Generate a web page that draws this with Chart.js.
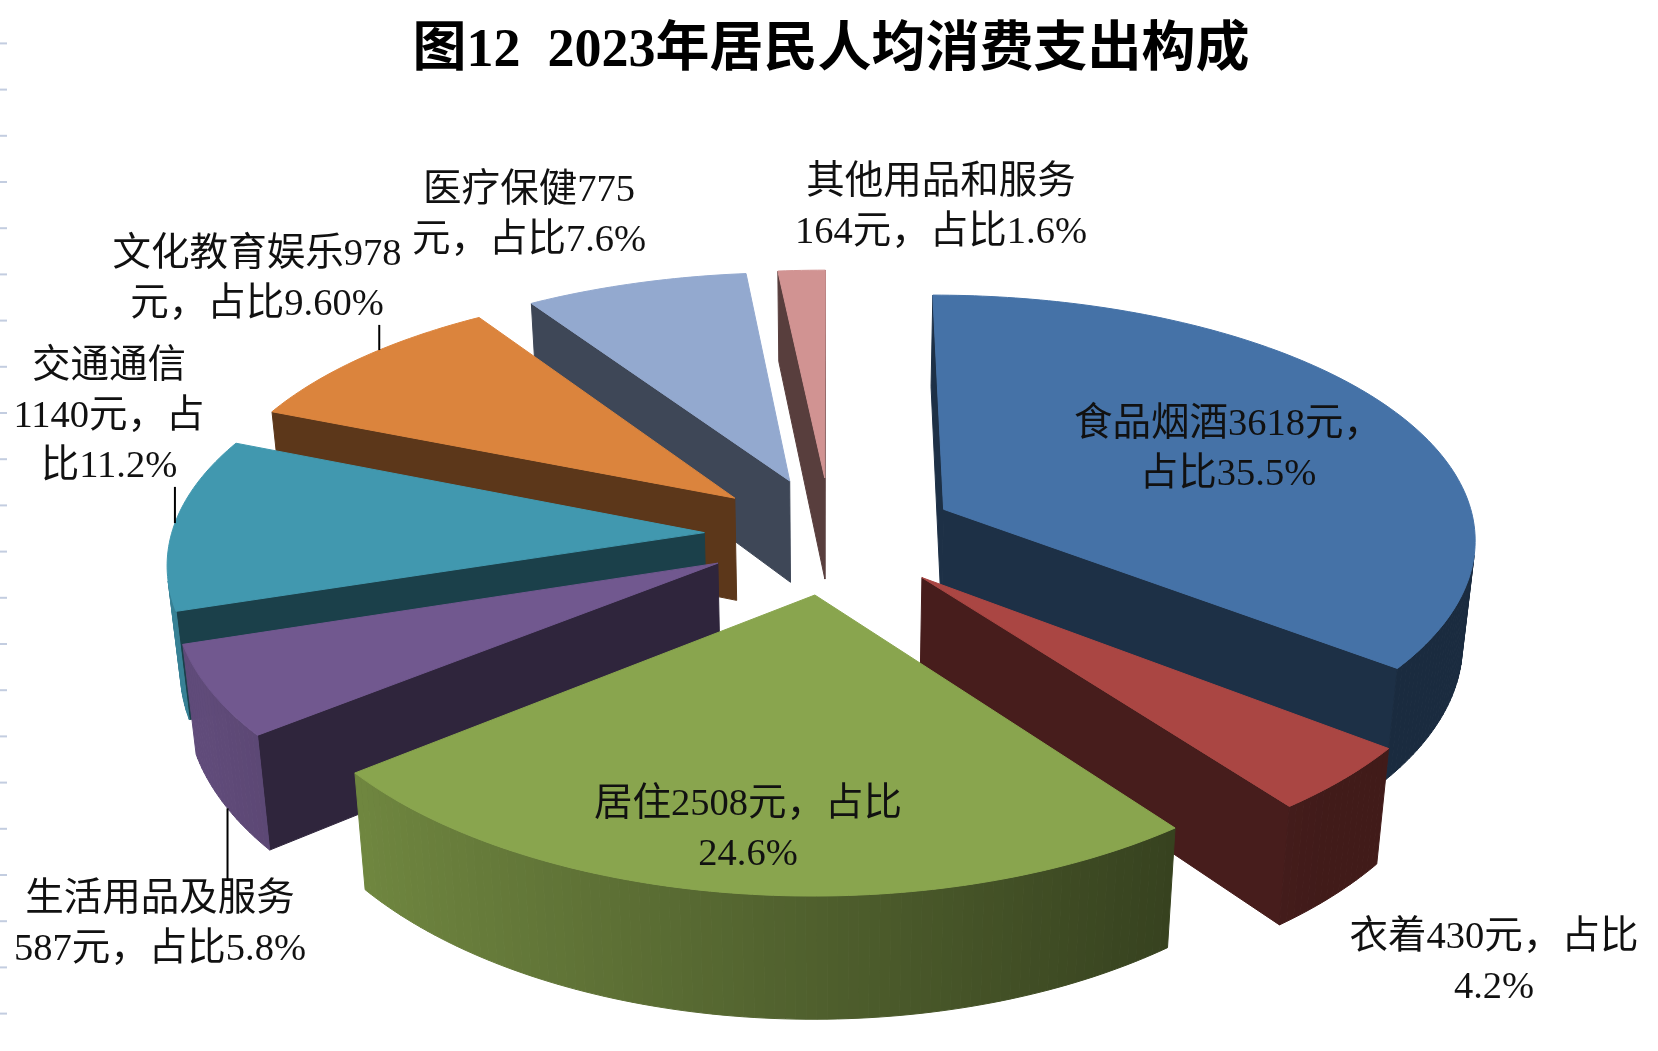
<!DOCTYPE html>
<html>
<head>
<meta charset="utf-8">
<style>
  html, body { margin: 0; padding: 0; background: #ffffff; overflow: hidden; }
  #c { display: block; }
</style>
<script src="https://cdn.jsdelivr.net/npm/chart.js@4.4.0/dist/chart.umd.min.js"></script>
</head>
<body>
<canvas id="c" width="1658" height="1051" style="width:1658px;height:1051px"></canvas>
<script>
// ---------------- data ----------------
const titleText = '图12  2023年居民人均消费支出构成';
const categories = ['食品烟酒', '衣着', '居住', '生活用品及服务', '交通通信', '文化教育娱乐', '医疗保健', '其他用品和服务'];
const values = [3618, 430, 2508, 587, 1140, 978, 775, 164];
const shares = ['35.5%', '4.2%', '24.6%', '5.8%', '11.2%', '9.60%', '7.6%', '1.6%'];

// ---------------- style ----------------
const colors = ['#4572A7', '#AA4643', '#89A54E', '#71588F', '#4198AF', '#DB843D', '#93A9CF', '#D19392'];
const labelBreaks = [[10], [9], [10], [7], [4, 11], [9], [7], [7]];           // where each label wraps
const labelOffsets = [[397, -110], [663, 403], [-83, 270], [-671, 365], [-722, -168], [-574, -280], [-302, -344], [110, -352]];
const labelLeaders = [null, null, null, 'bottom', 'top', 'top', null, null];
const leaderFrac = [0.5, 0.5, 0.5, 0.45, 0.5, 0.58, 0.5, 0.5];            // where along the slice rim the leader touches
const labelFont = "38.5px 'Liberation Serif', 'Noto Sans CJK SC', serif";
const titleFont = { size: 54, weight: 'bold', family: "'Liberation Serif', 'Noto Sans CJK SC', serif" };

function shade(hex, f) {
  const n = parseInt(hex.slice(1), 16);
  const r = Math.round(((n >> 16) & 255) * f), g = Math.round(((n >> 8) & 255) * f), b = Math.round((n & 255) * f);
  return `rgb(${r},${g},${b})`;
}

function geometry(chart, o) {
  const arcs = chart.getDatasetMeta(0).data;
  const R = arcs[0].outerRadius, CX = arcs[0].x, CY = arcs[0].y;
  const A = o.sx * R, B = o.sy * R, T = o.depth * R;
  const P = (px, pz, h) => [CX + A * px / (1 - o.kx * pz + o.kh * h), CY + (B * pz + T * h) / (1 - o.ky * pz)];
  const slices = arcs.map((arc, i) => {
    const a0 = arc.startAngle, a1 = arc.endAngle, mid = (a0 + a1) / 2;
    return { i, a0, a1, mid, ox: o.explode * Math.cos(mid), oz: o.explode * Math.sin(mid) };
  });
  return { CX, CY, P, slices };
}

const pie3d = {
  id: 'pie3d',
  beforeDraw(chart) {
    // faint ruler ticks along the left page edge
    const ctx = chart.ctx;
    ctx.save();
    ctx.strokeStyle = '#c3cde0';
    ctx.lineWidth = 2;
    for (let y = 43.4; y < chart.height - 20; y += 46.2) {
      ctx.beginPath(); ctx.moveTo(0, y); ctx.lineTo(7, y); ctx.stroke();
    }
    ctx.restore();
  },
  beforeDatasetsDraw(chart, args, o) {
    const ctx = chart.ctx;
    const { P, slices } = geometry(chart, o);
    const bg = chart.data.datasets[0].backgroundColor;
    const order = slices.slice().sort((s, t) => Math.sin(s.mid) - Math.sin(t.mid));
    const poly = (pts, fill) => {
      ctx.beginPath();
      pts.forEach((p, k) => k ? ctx.lineTo(p[0], p[1]) : ctx.moveTo(p[0], p[1]));
      ctx.closePath();
      ctx.fillStyle = fill; ctx.fill();
      ctx.strokeStyle = fill; ctx.lineWidth = 1; ctx.stroke();
    };
    const area = pts => {
      let s = 0;
      for (let k = 0; k < pts.length; k++) {
        const p = pts[k], q = pts[(k + 1) % pts.length];
        s += p[0] * q[1] - q[0] * p[1];
      }
      return s;
    };
    ctx.save();
    for (const s of order) {
      const base = bg[s.i];
      const n = Math.max(6, Math.ceil((s.a1 - s.a0) / (Math.PI / 180)));
      const rim = [];
      for (let k = 0; k <= n; k++) {
        const t = s.a0 + (s.a1 - s.a0) * k / n;
        rim.push([s.ox + Math.cos(t), s.oz + Math.sin(t), t]);
      }
      const top = r => P(r[0], r[1], 0), bot = r => P(r[0], r[1], 1);
      const Ot = P(s.ox, s.oz, 0), Ob = P(s.ox, s.oz, 1);
      const faces = [];
      faces.push({ pts: [Ot, top(rim[0]), bot(rim[0]), Ob], f: o.wallShade });
      faces.push({ pts: [top(rim[n]), Ot, Ob, bot(rim[n])], f: o.wallShade });
      for (let k = 0; k < n; k++) {
        const tm = (rim[k][2] + rim[k + 1][2]) / 2;
        const f = Math.min(o.rimMax, Math.max(o.rimMin, o.rimA - o.rimB * Math.cos(tm)));
        faces.push({ pts: [top(rim[k]), top(rim[k + 1]), bot(rim[k + 1]), bot(rim[k])], f });
      }
      faces.forEach(fc => { if (area(fc.pts) < 0) poly(fc.pts, shade(base, fc.f)); });
      poly([Ot, ...rim.map(top)], base);
    }
    ctx.restore();
    return false;
  },
  afterDraw(chart, args, o) {
    const ctx = chart.ctx;
    const { CX, CY, P, slices } = geometry(chart, o);
    ctx.save();
    ctx.font = labelFont;
    ctx.fillStyle = '#111111';
    ctx.textAlign = 'center';
    ctx.textBaseline = 'middle';
    const lh = o.lineHeight;
    slices.forEach(s => {
      const i = s.i;
      const full = categories[i] + values[i] + '元，占比' + shares[i];
      const lines = [];
      let prev = 0;
      labelBreaks[i].forEach(b => { lines.push(full.slice(prev, b)); prev = b; });
      lines.push(full.slice(prev));
      const x = CX + labelOffsets[i][0], y0 = CY + labelOffsets[i][1];
      lines.forEach((ln, k) => ctx.fillText(ln, x, y0 + k * lh));
      const lead = labelLeaders[i];
      if (lead) {
        const t = s.a0 + (s.a1 - s.a0) * leaderFrac[i];
        const px = s.ox + Math.cos(t), pz = s.oz + Math.sin(t);
        const p = P(px, pz, lead === 'bottom' ? 1 : 0);
        const yEnd = lead === 'top' ? y0 + (lines.length - 1) * lh + 20 : y0 - 19;
        ctx.beginPath();
        ctx.moveTo(p[0], p[1]);
        ctx.lineTo(p[0], yEnd);
        ctx.strokeStyle = '#000000';
        ctx.lineWidth = 2;
        ctx.stroke();
      }
    });
    ctx.restore();
  }
};

new Chart(document.getElementById('c'), {
  type: 'pie',
  data: {
    labels: categories,
    datasets: [{ data: values, backgroundColor: colors, borderWidth: 0 }]
  },
  options: {
    responsive: false,
    animation: false,
    devicePixelRatio: 1,
    layout: { padding: { left: 4, right: 0, top: 0, bottom: 82 } },
    plugins: {
      legend: { display: false },
      tooltip: { enabled: false },
      title: {
        display: true,
        text: titleText,
        color: '#000000',
        font: titleFont,
        padding: { top: 20, bottom: 16 }
      },
      pie3d: {
        sx: 1.228, sy: 0.569, depth: 0.24, kx: 0.107, ky: 0.125, kh: 0.02, explode: 0.238,
        wallShade: 0.42, rimA: 0.58, rimB: 0.3, rimMin: 0.38, rimMax: 0.85,
        lineHeight: 50
      }
    }
  },
  plugins: [pie3d]
});
</script>
</body>
</html>
